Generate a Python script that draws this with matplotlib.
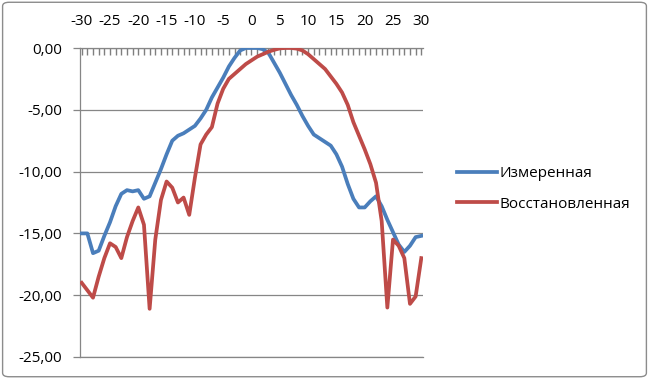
import matplotlib
matplotlib.use("Agg")
import matplotlib.pyplot as plt
from matplotlib.patches import FancyBboxPatch
from matplotlib.ticker import MultipleLocator

plt.rcParams['font.family'] = ['Open Sans', 'DejaVu Sans']

angles = list(range(-30, 31))
measured = [-15.0, -15.0, -16.6, -16.4, -15.2, -14.1, -12.8, -11.8, -11.5, -11.6,
            -11.5, -12.2, -12.0, -10.9, -9.8, -8.6, -7.5, -7.1, -6.9, -6.6,
            -6.3, -5.7, -5.0, -4.0, -3.2, -2.4, -1.5, -0.8, -0.2, 0.0,
            0.0, 0.0, -0.1, -0.4, -1.2, -2.0, -2.9, -3.8, -4.6, -5.5,
            -6.3, -7.0, -7.3, -7.6, -7.9, -8.6, -9.6, -11.0, -12.2, -12.9,
            -12.9, -12.4, -12.0, -12.8, -13.9, -14.9, -15.9, -16.5, -16.0, -15.3,
            -15.2]
restored = [-19.0, -19.6, -20.2, -18.5, -17.0, -15.8, -16.1, -17.0, -15.3, -14.0,
            -12.9, -14.3, -21.1, -15.5, -12.3, -10.8, -11.3, -12.5, -12.1, -13.5,
            -10.5, -7.8, -7.0, -6.4, -4.5, -3.3, -2.5, -2.1, -1.7, -1.3,
            -1.0, -0.7, -0.5, -0.3, -0.15, -0.03, 0.0, 0.0, -0.05, -0.2,
            -0.5, -0.9, -1.3, -1.7, -2.3, -2.9, -3.6, -4.6, -6.0, -7.1,
            -8.2, -9.4, -10.9, -14.0, -21.0, -15.5, -16.0, -17.0, -20.7, -20.1,
            -17.0]
series_names = ["Измеренная", "Восстановленная"]
x_ticks = list(range(-30, 31, 5))
y_ticks = [0, -5, -10, -15, -20, -25]

fig = plt.figure(figsize=(6.49, 3.79), dpi=100)
border = FancyBboxPatch((0.004, 0.006), 0.992, 0.988, boxstyle="round,pad=0,rounding_size=0.01",
                        transform=fig.transFigure, facecolor="white", edgecolor="#8c8c8c",
                        linewidth=1.0, zorder=-10)
fig.patches.append(border)

ax = fig.add_axes([80/649, 1-357/379, 343/649, 309/379])
ax.plot(angles, measured, color="#4A7EBB", linewidth=2.7, label=series_names[0], zorder=3)
ax.plot(angles, restored, color="#BE4B48", linewidth=2.7, label=series_names[1], zorder=3)

ax.set_xlim(-30.3, 30.3)
ax.set_ylim(-25, 0)
ax.set_yticks(y_ticks)
ax.set_yticklabels([f"{v:.2f}".replace(".", ",") for v in y_ticks], fontsize=11)
ax.set_xticks(x_ticks)
ax.set_xticklabels([str(v) for v in x_ticks], fontsize=11)
ax.xaxis.set_minor_locator(MultipleLocator(1))
ax.xaxis.set_ticks_position("top")
ax.xaxis.set_label_position("top")
ax.tick_params(axis="x", which="both", direction="in", length=5, width=1.0, color="#7f7f7f")
ax.tick_params(axis="x", which="major", pad=14)
ax.tick_params(axis="y", length=5, width=0.9, color="#868686", direction="out", pad=8)

ax.grid(axis="y", color="#868686", linewidth=0.9)
ax.spines["right"].set_visible(False)
for side in ["left", "top", "bottom"]:
    ax.spines[side].set_color("#868686")
    ax.spines[side].set_linewidth(0.9)
ax.set_facecolor("none")

ax.legend(loc="center left", bbox_to_anchor=(457/649, 1-189/379), bbox_transform=fig.transFigure,
          frameon=False, fontsize=11, borderpad=0, borderaxespad=0,
          handlelength=2.6, handletextpad=0.2, labelspacing=1.0)

fig.savefig("out.png", dpi=100)
